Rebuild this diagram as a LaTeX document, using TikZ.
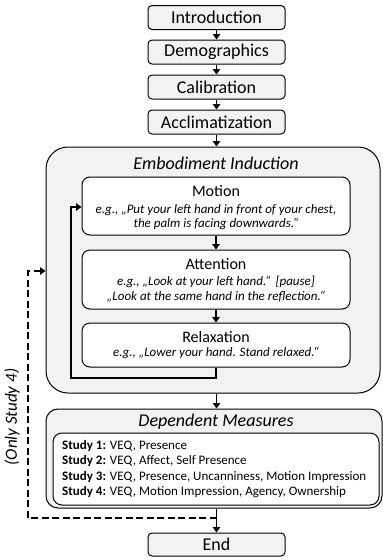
\documentclass[tikz,border=0pt]{standalone}
\usepackage{fontspec}
\setmainfont{Carlito}
\usetikzlibrary{arrows.meta,calc}
\definecolor{boxgrey}{HTML}{F2F2F2}
\tikzset{
  stepbox/.style={draw=black,line width=1pt,fill=boxgrey,rounded corners=4pt,minimum width=137pt,minimum height=24pt,inner sep=0pt,font=\fontsize{18}{20}\selectfont},
  groupbox/.style={draw=black,line width=1pt,fill=boxgrey,inner sep=0pt},
  innerbox/.style={draw=black,line width=1pt,fill=white,rounded corners=8pt,inner sep=0pt,minimum width=268pt,align=center},
  flow/.style={line width=1.6pt,-{Triangle[length=5.5pt,width=7.5pt]}},
  loop/.style={line width=2.2pt,-{Triangle[length=5.5pt,width=7.5pt]}},
  optpath/.style={line width=2pt,dash pattern=on 7pt off 3.5pt,-{Triangle[length=5.5pt,width=7.5pt]}},
  ex/.style={font=\fontsize{13}{14.3}\selectfont\itshape},
  ttl/.style={font=\fontsize{16}{18}\selectfont},
}
\begin{document}
\begin{tikzpicture}[x=1pt,y=-1pt]
\useasboundingbox (0,0) rectangle (383,560);
% top boxes
\node[stepbox] (intro) at (216.5,17.5) {Introduction};
\node[stepbox] (demo) at (216.5,52) {Demographics};
\node[stepbox] (cal) at (216.5,87) {Calibration};
\node[stepbox] (accl) at (216.5,122) {Acclimatization};
% embodiment group
\node[groupbox,rounded corners=22pt,minimum width=334pt,minimum height=246pt] (emb) at (213,270) {};
\node[font=\fontsize{18}{20}\selectfont\itshape] (embt) at (216,163) {Embodiment Induction};
\node[innerbox,minimum height=58pt] (motion) at (216,206) {};
\node[ttl] (motiont) at (216,191.5) {Motion};
\node[ex,align=center] (motionx) at (216,217) {e.g., „Put your left hand in front of your chest,\\the palm is facing downwards.“};
\node[innerbox,minimum height=59pt] (att) at (216,279.5) {};
\node[ttl] (attt) at (216,264) {Attention};
\node[ex,align=center] (attx) at (216,289) {e.g., „Look at your left hand.“ \,[pause]\\[0.5pt]„Look at the same hand in the reflection.“};
\node[innerbox,minimum height=44pt] (relax) at (216,345) {};
\node[ttl] (relaxt) at (216,337) {Relaxation};
\node[ex] (relaxx) at (216,352.5) {e.g., „Lower your hand. Stand relaxed.“};
% dependent measures
\node[groupbox,rounded corners=12pt,minimum width=336pt,minimum height=99pt] (dm) at (214,458.5) {};
\node[font=\fontsize{18}{20}\selectfont\itshape] (dmt) at (216,422) {Dependent Measures};
\node[draw=black,line width=1pt,fill=white,rounded corners=9pt,minimum width=326pt,minimum height=72pt,inner sep=0pt] (dmi) at (216,469) {};
\node[anchor=west,align=left,font=\fontsize{13}{15.3}\selectfont,inner sep=0pt] (dml) at (62,469) {\textbf{Study 1:} VEQ, Presence\\\textbf{Study 2:} VEQ, Affect, Self Presence\\\textbf{Study 3:} VEQ, Presence, Uncanniness, Motion Impression\\\textbf{Study 4:} VEQ, Motion Impression, Agency, Ownership};
% end
\node[stepbox,minimum height=23pt] (end) at (216.5,544.5) {End};
% connectors
\draw[flow] (intro) -- (demo);
\draw[flow] (demo) -- (cal);
\draw[flow] (cal) -- (accl);
\draw[flow] (accl.south) -- (accl.south |- emb.north);
\draw[flow] (motion) -- (att);
\draw[flow] (att) -- (relax);
\draw[flow] (emb.south -| accl.south) -- (accl.south |- dm.north);
\draw[flow] (dm.south -| accl.south) -- (end);
\coordinate (lpA) at (216,378);
\coordinate (lpB) at (71,378);
\coordinate (lpC) at (71,207);
\draw[loop] (relax.south) -- (lpA) -- (lpB) -- (lpC) -- (motion.west |- lpC);
\coordinate (dsA) at (216.5,518);
\coordinate (dsB) at (28,518);
\coordinate (dsC) at (28,271);
\draw[optpath] (dsA) -- (dsB) -- (dsC) -- (emb.west |- dsC);
\node[rotate=90,font=\fontsize{17}{19}\selectfont\itshape] (only) at (12,417) {(Only Study 4)};
\end{tikzpicture}
\end{document}
